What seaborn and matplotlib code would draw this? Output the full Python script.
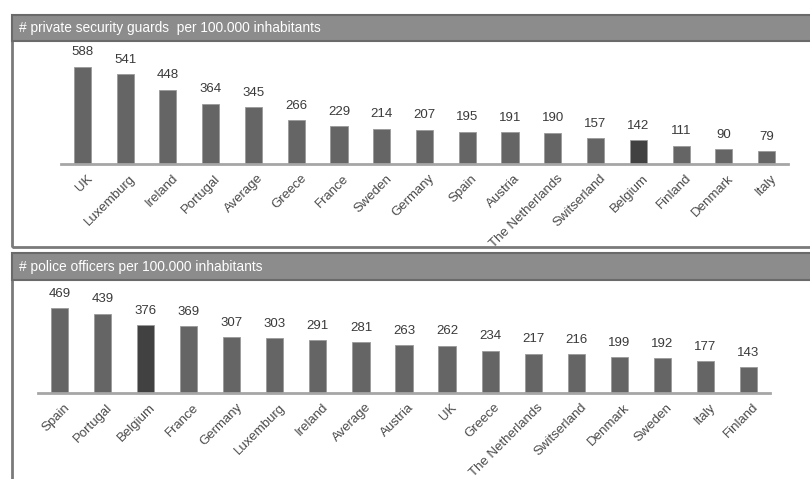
import matplotlib
matplotlib.use("Agg")
import matplotlib.pyplot as plt
import matplotlib.transforms as mtransforms
import seaborn as sns
from matplotlib.patches import Rectangle

sns.set_style("white")
plt.rcParams['font.family'] = ['Liberation Sans', 'DejaVu Sans']

guard_countries = ["UK", "Luxemburg", "Ireland", "Portugal", "Average", "Greece", "France",
                   "Sweden", "Germany", "Spain", "Austria", "The Netherlands", "Switserland",
                   "Belgium", "Finland", "Denmark", "Italy"]
guard_values = [588, 541, 448, 364, 345, 266, 229, 214, 207, 195, 191, 190, 157, 142, 111, 90, 79]

police_countries = ["Spain", "Portugal", "Belgium", "France", "Germany", "Luxemburg", "Ireland",
                    "Average", "Austria", "UK", "Greece", "The Netherlands", "Switserland",
                    "Denmark", "Sweden", "Italy", "Finland"]
police_values = [469, 439, 376, 369, 307, 303, 291, 281, 263, 262, 234, 217, 216, 199, 192, 177, 143]

title_top = "# private security guards  per 100.000 inhabitants"
title_bottom = "# police officers per 100.000 inhabitants"

BAR = "#656565"
HIGHLIGHT = "#414141"
W, H = 810, 479

fig = plt.figure(figsize=(8.1, 4.79), dpi=100)

def fx(px):
    return px / W

def fy(py):
    return (H - py) / H

# panel frames
fig.patches.append(Rectangle((fx(12), fy(247)), 1.0, fy(15) - fy(247), transform=fig.transFigure,
                             fill=False, edgecolor="#7a7a7a", linewidth=2.0, zorder=0))
fig.patches.append(Rectangle((fx(12), fy(500)), 1.0, fy(253) - fy(500), transform=fig.transFigure,
                             fill=False, edgecolor="#7a7a7a", linewidth=2.0, zorder=0))
# header bars
for top, bot, txt in [(15, 41, title_top), (253, 280, title_bottom)]:
    fig.patches.append(Rectangle((fx(12), fy(bot)), 1.0, fy(top) - fy(bot), transform=fig.transFigure,
                                 facecolor="#8c8c8c", edgecolor="#6a6a6a", linewidth=1.5, zorder=1))
    fig.text(fx(19), (fy(top) + fy(bot)) / 2, txt, color="white", fontsize=9.9,
             va="center", ha="left", zorder=2)


def draw(ax, cats, vals, ymax):
    colors = [HIGHLIGHT if c == "Belgium" else BAR for c in cats]
    sns.barplot(x=cats, y=vals, hue=cats, palette=colors, legend=False, ax=ax,
                width=0.4, edgecolor="#9a9a9a", linewidth=0.6, saturation=1)
    ax.set_xlim(-0.5, len(cats) - 0.5)
    ax.set_ylim(0, ymax)
    for i, v in enumerate(vals):
        ax.annotate(str(v), (i, v), xytext=(0, 6), textcoords="offset points",
                    ha="center", va="bottom", fontsize=9.5, color="#3a3a3a")
    for s in ["top", "right", "left"]:
        ax.spines[s].set_visible(False)
    ax.spines["bottom"].set_color("#a6a6a6")
    ax.spines["bottom"].set_linewidth(2.0)
    ax.set_yticks([])
    ax.set_xticks(range(len(cats)))
    ax.set_xticklabels(cats, rotation=45, ha="right", rotation_mode="anchor",
                       fontsize=9.5, color="#4a4a4a")
    ax.tick_params(axis="x", which="major", length=0, pad=6)
    shift = mtransforms.ScaledTranslation(4 / 100, 0, fig.dpi_scale_trans)
    for lab in ax.get_xticklabels():
        lab.set_transform(lab.get_transform() + shift)
    ax.set_xticks([i - 0.5 for i in range(len(cats) + 1)], minor=True)
    ax.tick_params(axis="x", which="minor", length=4, width=1.2, color="#a6a6a6", direction="out")
    ax.set_xlabel("")
    ax.set_ylabel("")
    ax.patch.set_alpha(0)


ax1 = fig.add_axes([fx(61), fy(164), fx(727), (164 - 58) / H])
draw(ax1, guard_countries, guard_values, 640)

ax2 = fig.add_axes([fx(38), fy(393), fx(732), 95 / H])
draw(ax2, police_countries, police_values, 525)

fig.savefig("out.png", dpi=100)
